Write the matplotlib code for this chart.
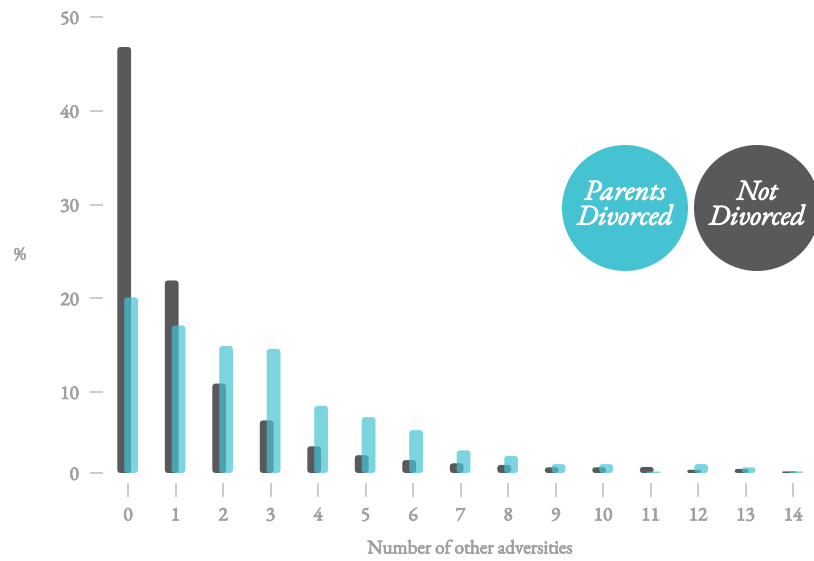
import numpy as np
import matplotlib
matplotlib.use('Agg')
import matplotlib.pyplot as plt
from matplotlib.patches import FancyBboxPatch, Ellipse
from matplotlib.transforms import IdentityTransform
from matplotlib.font_manager import FontProperties
import matplotlib.patheffects as pe

categories = list(range(15))
tick_labels = [str(c) for c in categories]
not_divorced = [46.8, 21.9, 10.9, 6.5, 3.3, 2.2, 1.6, 1.2, 1.0, 0.7, 0.7, 0.75, 0.4, 0.5, 0.2]
parents_divorced = [20.1, 17.1, 14.9, 14.6, 8.3, 6.9, 5.3, 2.8, 2.1, 1.1, 1.1, 0.15, 1.1, 0.7, 0.2]
y_ticks = [0, 10, 20, 30, 40, 50]
y_tick_labels = ['0', '10', '20', '30', '40', '50']
legend_labels = ['Parents\nDivorced', 'Not\nDivorced']

DARK = '#58595b'
CYAN = '#45c3d3'
GRAY = '#a0a0a0'
SERIF = ['EB Garamond', 'Liberation Serif', 'DejaVu Serif']

W, H = 814, 561
fig = plt.figure(figsize=(W / 100, H / 100), dpi=100)
ax = fig.add_axes([110 / W, (H - 473) / H, (W - 110) / W, (473 - 17) / H])


def fwd(v):
    v = np.asarray(v, float)
    return np.where(v <= 10, 8.1 * v, 81 + 9.375 * (v - 10))


def inv(p):
    p = np.asarray(p, float)
    return np.where(p <= 81, p / 8.1, 10 + (p - 81) / 9.375)


ax.set_yscale('function', functions=(fwd, inv))
ax.set_ylim(0, 50)
ax.set_xlim(-18 / 47.5, (W - 128) / 47.5)

for s in ax.spines.values():
    s.set_visible(False)
ax.spines['left'].set_position(('outward', 5))
ax.spines['bottom'].set_position(('outward', 7.2))

bold_fx = [pe.withStroke(linewidth=0.6, foreground=GRAY)]
tick_fp = FontProperties(family=SERIF, size=14)
ax.set_yticks(y_ticks)
ax.set_yticklabels(y_tick_labels)
ax.set_xticks(categories)
ax.set_xticklabels(tick_labels)
ax.tick_params(axis='y', direction='out', length=9.4, width=1.1, color='#bdbdbd',
               pad=8, labelcolor=GRAY)
ax.tick_params(axis='x', direction='out', length=10, width=1.1, color='#bdbdbd',
               pad=7, labelcolor=GRAY)
for lab in ax.get_xticklabels() + ax.get_yticklabels():
    lab.set_fontproperties(tick_fp)
    lab.set_path_effects(bold_fx)
ax.patch.set_alpha(0)

bar_w = 0.29
series = [(not_divorced, -0.08, DARK, 1.0, 2), (parents_divorced, 0.065, CYAN, 0.7, 3)]
for vals, off, col, alpha, z in series:
    for c, v in zip(categories, vals):
        x0, y0 = ax.transData.transform((c + off - bar_w / 2, 0))
        x1, y1 = ax.transData.transform((c + off + bar_w / 2, v))
        w = x1 - x0
        h = max(y1 - y0, 1.5)
        r = min(3.5, h / 2, w / 2)
        p = FancyBboxPatch((x0 + r, y0 + r), w - 2 * r, h - 2 * r,
                           boxstyle=f'round,pad={r},rounding_size={r}',
                           transform=IdentityTransform(), facecolor=col,
                           edgecolor='none', alpha=alpha, zorder=z)
        fig.add_artist(p)

# legend circles
legend_fp = FontProperties(family=SERIF, style='italic', size=20.5)
white_fx = [pe.withStroke(linewidth=0.7, foreground='white')]
centers = [(625, 208), (757, 208)]
for (cx, cy), col, lab in zip(centers, [CYAN, DARK], legend_labels):
    e = Ellipse((cx / W, 1 - cy / H), 126 / W, 126 / H, transform=fig.transFigure,
                facecolor=col, edgecolor='none', zorder=5)
    fig.add_artist(e)
    fig.text(cx / W, 1 - (cy - 2) / H, lab, ha='center', va='center', color='white',
             fontproperties=legend_fp, linespacing=0.85, zorder=6, path_effects=white_fx)

lab_fp = FontProperties(family=SERIF, size=13)
xl_fp = FontProperties(family=SERIF, size=13.8)
fig.text(20 / W, 1 - 255 / H, '%', ha='center', va='center', color=GRAY,
         fontproperties=lab_fp, path_effects=bold_fx)
fig.text(470 / W, 1 - 549 / H, 'Number of other adversities', ha='center', va='center',
         color=GRAY, fontproperties=xl_fp, path_effects=bold_fx)

fig.savefig('out.png', dpi=100)
